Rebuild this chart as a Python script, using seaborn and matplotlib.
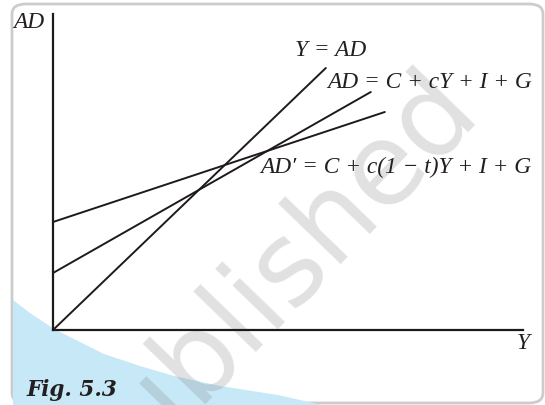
import matplotlib
matplotlib.use("Agg")
import matplotlib.pyplot as plt
import seaborn as sns
import pandas as pd
from matplotlib.patches import FancyBboxPatch, Polygon

# ---- data (in chart units) ----
yad_x = [0, 273]
yad_y = [0, 262]
ad_x = [0, 318]
ad_y = [57, 238]
adp_x = [0, 332]
adp_y = [108, 218]

label_yad = "Y = AD"
label_ad = "AD = C + cY + I + G"
label_adp = "AD\u2032 = C + c(1 \u2212 t)Y + I + G"
x_label = "Y"
y_label = "AD"
fig_caption = "Fig. 5.3"
watermark = "Republished"

sns.set_style("white")
plt.rcParams['font.family'] = ['Liberation Serif', 'DejaVu Serif']

W, H = 545, 406
fig = plt.figure(figsize=(W / 100, H / 100), dpi=100)
fig.patch.set_facecolor("white")

def px(x, y):
    return (x / W, 1 - y / H)

# frame
frame = FancyBboxPatch(px(12, 404), (543 - 12) / W, (404 - 5) / H,
                       boxstyle="round,pad=0,rounding_size=0.025",
                       transform=fig.transFigure, facecolor="white",
                       edgecolor="#cccccc", linewidth=2.0, zorder=-3)
fig.patches.append(frame)

# light blue band
blue_pts = [(13, 301), (30, 314), (54, 330), (80, 343), (104, 355), (140, 367),
            (174, 377), (220, 387), (278, 396), (322, 406), (13, 406)]
blue = Polygon([px(*p) for p in blue_pts], closed=True, transform=fig.transFigure,
               facecolor="#c6e8f7", edgecolor="none", zorder=-2)
fig.patches.append(blue)

# watermark
fig.text(*px(480, 108), watermark, fontsize=82, color="#808080", alpha=0.24,
         family="DejaVu Sans", rotation=46, rotation_mode="anchor",
         ha="right", va="baseline", zorder=-1)

ax = fig.add_axes([53 / W, 1 - 331 / H, (522.7 - 53) / W, (331 - 15) / H])
ax.set_zorder(1)
ax.patch.set_alpha(0)

df = pd.concat([
    pd.DataFrame({"x": yad_x, "y": yad_y, "s": "yad"}),
    pd.DataFrame({"x": ad_x, "y": ad_y, "s": "ad"}),
    pd.DataFrame({"x": adp_x, "y": adp_y, "s": "adp"}),
])
sns.lineplot(data=df, x="x", y="y", units="s", estimator=None, color="#1f1a1a",
             linewidth=1.4, ax=ax, legend=False, sort=False)

ax.set_xlim(0, 470)
ax.set_ylim(0, 316)
ax.set_xticks([])
ax.set_yticks([])
ax.set_xlabel("")
ax.set_ylabel("")
for s in ["top", "right"]:
    ax.spines[s].set_visible(False)
for s in ["left", "bottom"]:
    ax.spines[s].set_linewidth(1.6)
    ax.spines[s].set_color("#1f1a1a")

tc = "#231f20"
fs = 16.8
fig.text(*px(295, 51), label_yad, fontsize=fs, style="italic", color=tc, ha="left", va="center")
fig.text(*px(327, 83), label_ad, fontsize=fs, style="italic", color=tc, ha="left", va="center")
fig.text(*px(260, 167), label_adp, fontsize=fs, style="italic", color=tc, ha="left", va="center")
fig.text(*px(13, 22), y_label, fontsize=fs, style="italic", color=tc, ha="left", va="center")
fig.text(*px(523, 344), x_label, fontsize=fs, style="italic", color=tc, ha="center", va="center")
fig.text(*px(26, 390), fig_caption, fontsize=15.5, style="italic", weight="bold",
         family=["DejaVu Serif"], color=tc, ha="left", va="center")

fig.savefig("out.png", dpi=100)
